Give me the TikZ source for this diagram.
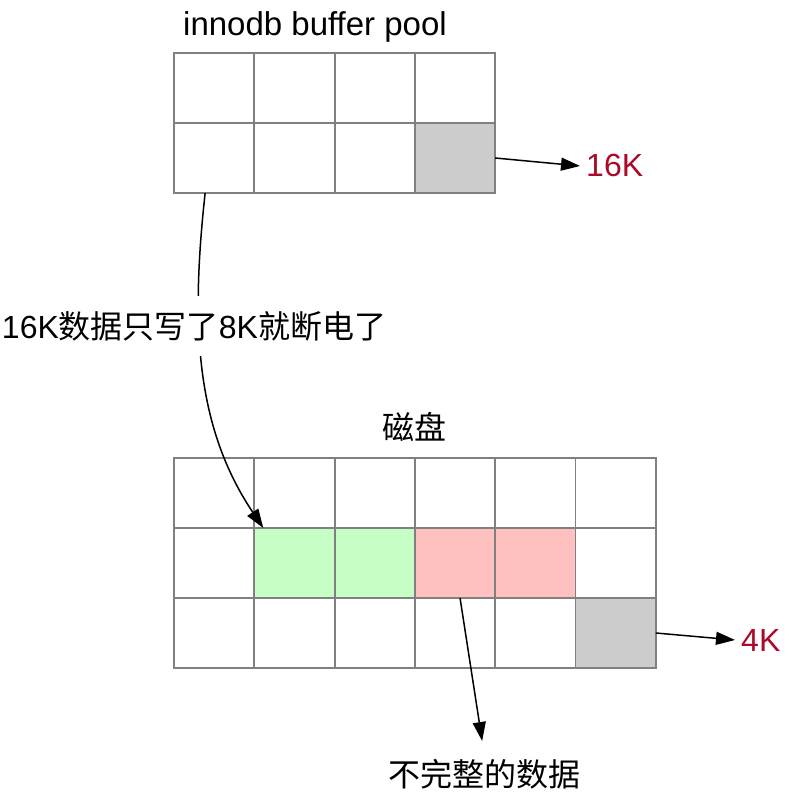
\documentclass[tikz,border=0pt]{standalone}
\usepackage{fontspec}
\setmainfont{Liberation Sans}
\newfontfamily\cjk{Noto Sans CJK SC}
\newcommand{\zhfont}{\cjk\fontsize{32}{38}\selectfont}
\usetikzlibrary{arrows.meta}
\definecolor{keyred}{RGB}{172,8,40}
\definecolor{gridgray}{RGB}{128,128,128}
\definecolor{cellgreen}{RGB}{198,255,198}
\definecolor{cellpink}{RGB}{255,192,192}
\definecolor{cellgray}{RGB}{204,204,204}

\begin{document}
\begin{tikzpicture}[x=1pt, y=-1pt, cell node/.style={fill=white, minimum width=80.3pt, minimum height=70pt, inner sep=0pt, outer sep=0pt}, cell line/.style={draw=gridgray, line width=1.8pt}, text node/.style={inner sep=6pt, font=\fontsize{32}{38}\selectfont}, link/.style={-{Triangle[length=19pt,width=13pt]}, line width=1.5pt}] %pixel units, y grows downwards like the screenshot
\useasboundingbox (0,0) rectangle (798,802);
% buffer pool pages
\foreach \c/\f in {1/white,2/white,3/white,4/white}
    \node[cell node, fill=\f](t1\c) at ({174+80.3*(\c-0.5)}, 88) {};
\foreach \c/\f in {1/white,2/white,3/white,4/cellgray}
    \node[cell node, fill=\f](t2\c) at ({174+80.3*(\c-0.5)}, 158) {};
\foreach \r in {1,2}
    \foreach \c in {1,...,4}
        \draw[cell line] (t\r\c.north west) rectangle (t\r\c.south east);
\node[text node, font=\fontsize{33}{40}\selectfont, anchor=base](pool) at (315,36) {innodb buffer pool};
\node[text node, text=keyred, anchor=base west](k16) at (580,177) {16K};
\draw[link] (t24.east) -- (k16.west);
% disk pages
\foreach \c/\f in {1/white,2/white,3/white,4/white,5/white,6/white}
    \node[cell node, fill=\f](b1\c) at ({174+80.3*(\c-0.5)}, 493) {};
\foreach \c/\f in {1/white,2/cellgreen,3/cellgreen,4/cellpink,5/cellpink,6/white}
    \node[cell node, fill=\f](b2\c) at ({174+80.3*(\c-0.5)}, 563) {};
\foreach \c/\f in {1/white,2/white,3/white,4/white,5/white,6/cellgray}
    \node[cell node, fill=\f](b3\c) at ({174+80.3*(\c-0.5)}, 633) {};
\foreach \r in {1,2,3}
    \foreach \c in {1,...,6}
        \draw[cell line] (b\r\c.north west) rectangle (b\r\c.south east);
\node[text node, font=\zhfont](disk) at (414,427) {磁盘};
\node[text node, text=keyred, anchor=base west](k4) at (735,651) {4K};
\draw[link] (b36.east) -- (k4.west);
% write that stopped half way
\draw[link] ([xshift=-9pt]t21.south) .. controls (190,330) and (197,429) .. ([xshift=9pt]b22.north west);
\node[text node, fill=white, inner ysep=15pt, inner xsep=1pt](cut) at (194,326) {16K{\zhfont 数据只写了}8K{\zhfont 就断电了}};
\node[text node, font=\zhfont](bad) at (484,774) {不完整的数据};
\draw[link, shorten >=12pt] ([xshift=5pt]b24.south) -- (bad.north);
\end{tikzpicture}
\end{document}
